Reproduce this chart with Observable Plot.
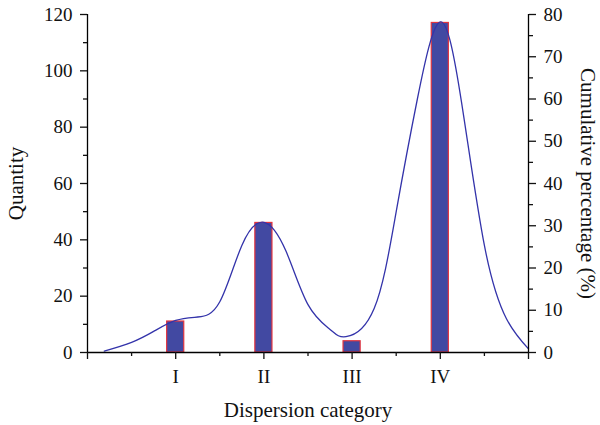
<!DOCTYPE html>
<html>
<head>
<meta charset="utf-8">
<script src="https://cdn.jsdelivr.net/npm/d3@7"></script>
<script src="https://cdn.jsdelivr.net/npm/@observablehq/plot@0.6"></script>
<style>
  html, body { margin: 0; padding: 0; background: #fff; }
</style>
</head>
<body>
<div id="chart"></div>
<script>
// Bars
const categories = ["I", "II", "III", "IV"];
const categoryPos = [1, 2, 3, 4];
const quantities = [11, 46, 4, 117];

// Smooth curve (in quantity units)
const curveX = [0.19, 0.5, 0.75, 1, 1.25, 1.5, 1.75, 2, 2.25, 2.5, 2.75, 2.93, 3.25, 3.5, 3.74, 4, 4.24, 4.5, 4.75, 5];
const curveY = [0.5, 3.6, 7.5, 11.4, 12.6, 18, 38, 46.2, 36, 17, 8.2, 5.6, 15.6, 50, 90, 117.4, 89, 38, 12, 1.3];

// Axes
const leftTicks = [0, 20, 40, 60, 80, 100, 120];
const leftMinor = [10, 30, 50, 70, 90, 110];
const rightTicks = [0, 10, 20, 30, 40, 50, 60, 70, 80];
const rightMinor = [5, 15, 25, 35, 45, 55, 65, 75];
const xMajor = [0, 1, 2, 3, 4, 5];
const xMinor = [0.5, 1.5, 2.5, 3.5, 4.5];

const yMax = 120, pMax = 80, k = yMax / pMax;

const bars = categories.map((c, i) => ({cat: c, pos: categoryPos[i], q: quantities[i]}));
const curve = curveX.map((x, i) => ({x, y: curveY[i]}));

const halfW = 0.097;
const font = "'Liberation Serif', 'Times New Roman', serif";

const chart = Plot.plot({
  width: 600,
  height: 425,
  marginLeft: 87,
  marginRight: 72,
  marginTop: 14,
  marginBottom: 73,
  style: {fontFamily: font, fontSize: "19px", color: "#111", background: "#fff"},
  x: {domain: [0, 5]},
  y: {domain: [0, yMax]},
  marks: [
    Plot.rect(bars, {x1: d => d.pos - halfW, x2: d => d.pos + halfW, y1: 0, y2: "q",
      fill: "#4249a2", stroke: "#e2343e", strokeWidth: 1.2}),
    Plot.line(curve, {x: "x", y: "y", curve: "natural", stroke: "#3333aa", strokeWidth: 1.3}),
    Plot.ruleX([0, 5], {stroke: "#000", strokeWidth: 1.3}),
    Plot.ruleY([0], {stroke: "#000", strokeWidth: 1.3}),
    Plot.axisY({anchor: "left", ticks: leftTicks, tickSize: 7, tickPadding: 8, label: null, strokeWidth: 1.3, tickFormat: d => String(d)}),
    Plot.axisY({anchor: "left", ticks: leftMinor, tickSize: 4, label: null, strokeWidth: 1.3, tickFormat: () => ""}),
    Plot.axisY({anchor: "right", ticks: rightTicks.map(p => p * k), tickSize: 7, tickPadding: 8, label: null, strokeWidth: 1.3, tickFormat: d => String(Math.round(d / k))}),
    Plot.axisY({anchor: "right", ticks: rightMinor.map(p => p * k), tickSize: 4, label: null, strokeWidth: 1.3, tickFormat: () => ""}),
    Plot.axisX({anchor: "bottom", ticks: xMajor, tickSize: 7, tickPadding: 10, label: null, strokeWidth: 1.3,
      tickFormat: d => { const i = categoryPos.indexOf(d); return i >= 0 ? categories[i] : ""; }}),
    Plot.axisX({anchor: "bottom", ticks: xMinor, tickSize: 4, label: null, strokeWidth: 1.3, tickFormat: () => ""}),
    Plot.text(["Quantity"], {frameAnchor: "left", textAnchor: "middle", lineAnchor: "middle", dx: -71, rotate: -90, fontSize: 21, fill: "#111"}),
    Plot.text(["Cumulative percentage (%)"], {frameAnchor: "right", textAnchor: "middle", lineAnchor: "middle", dx: 59, rotate: 90, fontSize: 21, fill: "#111"}),
    Plot.text(["Dispersion category"], {frameAnchor: "bottom", textAnchor: "middle", lineAnchor: "middle", dy: 58, fontSize: 21, fill: "#111"})
  ]
});
document.getElementById("chart").appendChild(chart);
</script>
</body>
</html>
